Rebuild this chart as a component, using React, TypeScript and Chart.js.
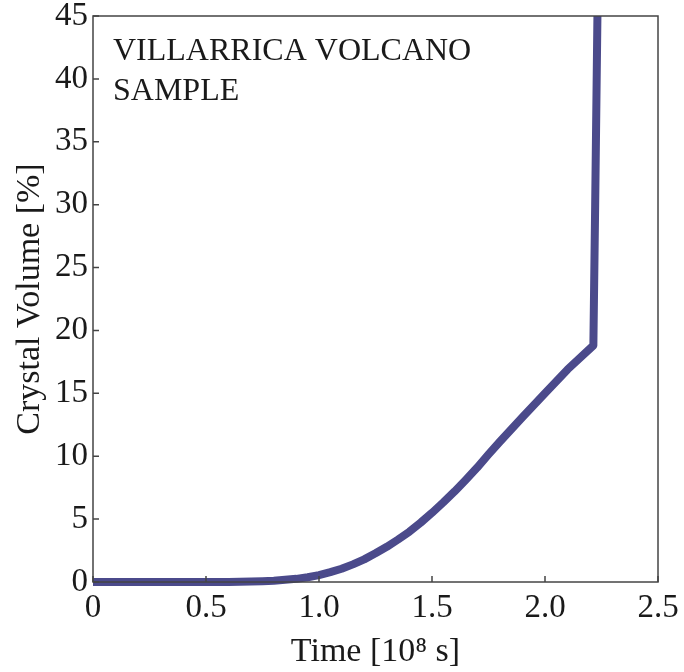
import React, { useEffect, useRef } from "react";
import { Chart, registerables } from "chart.js";

Chart.register(...registerables);

const timeValues = [0, 0.3, 0.6, 0.7, 0.75, 0.8, 0.85, 0.9, 0.95, 1.0, 1.05, 1.1, 1.15, 1.2, 1.25, 1.3, 1.35, 1.4, 1.45, 1.5, 1.55, 1.6, 1.65, 1.7, 1.75, 1.8, 1.9, 2.0, 2.1, 2.214, 2.222, 2.232];
const crystalVolume = [0, 0, 0, 0.03, 0.06, 0.1, 0.17, 0.25, 0.38, 0.55, 0.78, 1.05, 1.4, 1.8, 2.28, 2.8, 3.38, 4.0, 4.72, 5.5, 6.33, 7.2, 8.13, 9.1, 10.14, 11.15, 13.1, 15.0, 16.9, 18.8, 30, 45];
const xTicks = [0, 0.5, 1.0, 1.5, 2.0, 2.5];
const yTicks = [0, 5, 10, 15, 20, 25, 30, 35, 40, 45];
const sampleLabel = ["VILLARRICA VOLCANO", "SAMPLE"];
const xTitle = "Time [10\u2078 s]";
const yTitle = "Crystal Volume [%]";

const FONT = "'Liberation Serif', 'DejaVu Serif', serif";
const LINE_COLOR = "#4b4a8b";
const AXIS_COLOR = "#444444";

const framePlugin = {
  id: "frameAndTicks",
  afterDatasetsDraw(chart: any) {
    const { ctx, chartArea, scales } = chart;
    const { left, right, top, bottom } = chartArea;
    ctx.save();
    ctx.strokeStyle = AXIS_COLOR;
    ctx.lineWidth = 1.5;
    ctx.strokeRect(left, top, right - left, bottom - top);
    ctx.beginPath();
    for (const v of xTicks) {
      const px = scales.x.getPixelForValue(v);
      ctx.moveTo(px, bottom);
      ctx.lineTo(px, bottom - 6);
    }
    for (const v of yTicks) {
      const py = scales.y.getPixelForValue(v);
      ctx.moveTo(left, py);
      ctx.lineTo(left + 6, py);
    }
    ctx.stroke();
    ctx.fillStyle = "#1a1a1a";
    ctx.font = `32px ${FONT}`;
    ctx.textAlign = "left";
    ctx.textBaseline = "alphabetic";
    sampleLabel.forEach((line, i) => {
      ctx.fillText(line, left + 20, top + 44 + i * 40);
    });
    ctx.restore();
  },
};

export default function App() {
  const canvasRef = useRef<HTMLCanvasElement | null>(null);

  useEffect(() => {
    document.body.style.margin = "0";
    const canvas = canvasRef.current;
    if (!canvas) return;
    const chart = new Chart(canvas, {
      type: "line",
      data: {
        datasets: [
          {
            data: timeValues.map((t, i) => ({ x: t, y: crystalVolume[i] })),
            borderColor: LINE_COLOR,
            borderWidth: 8,
            pointRadius: 0,
            tension: 0,
            borderCapStyle: "butt",
            borderJoinStyle: "round",
            fill: false,
            clip: 10,
          },
        ],
      },
      options: {
        responsive: false,
        animation: false,
        maintainAspectRatio: false,
        layout: { padding: { left: 0, right: 26, top: 16, bottom: 0 } },
        plugins: { legend: { display: false }, tooltip: { enabled: false } },
        scales: {
          x: {
            type: "linear",
            min: 0,
            max: 2.5,
            afterFit: (s: any) => {
              s.height = 90;
              s.paddingLeft = 0;
              s.paddingRight = 0;
            },
            afterBuildTicks: (s: any) => {
              s.ticks = xTicks.map((v) => ({ value: v }));
            },
            grid: { display: false, drawTicks: false },
            border: { display: false },
            ticks: {
              padding: 7,
              color: "#1a1a1a",
              font: { family: FONT, size: 33 },
              maxRotation: 0,
              callback: (v: any) => (Number(v) === 0 ? "0" : Number(v).toFixed(1)),
            },
            title: {
              display: true,
              text: xTitle,
              color: "#1a1a1a",
              font: { family: FONT, size: 34 },
              padding: { top: 4, bottom: 0 },
            },
          },
          y: {
            type: "linear",
            min: 0,
            max: 45,
            afterFit: (s: any) => {
              s.width = 93;
              s.paddingTop = 0;
              s.paddingBottom = 0;
            },
            afterBuildTicks: (s: any) => {
              s.ticks = yTicks.map((v) => ({ value: v }));
            },
            grid: { display: false, drawTicks: false },
            border: { display: false },
            ticks: {
              padding: 5,
              color: "#1a1a1a",
              font: { family: FONT, size: 33 },
              callback: (v: any) => String(v),
            },
            title: {
              display: true,
              text: yTitle,
              color: "#1a1a1a",
              font: { family: FONT, size: 34 },
              padding: { top: 10, bottom: 0 },
            },
          },
        },
      },
      plugins: [framePlugin],
    } as any);
    return () => chart.destroy();
  }, []);

  return (
    <div style={{ position: "relative", width: 684, height: 672, background: "#ffffff" }}>
      <canvas ref={canvasRef} width={684} height={672} style={{ display: "block" }} />
    </div>
  );
}
